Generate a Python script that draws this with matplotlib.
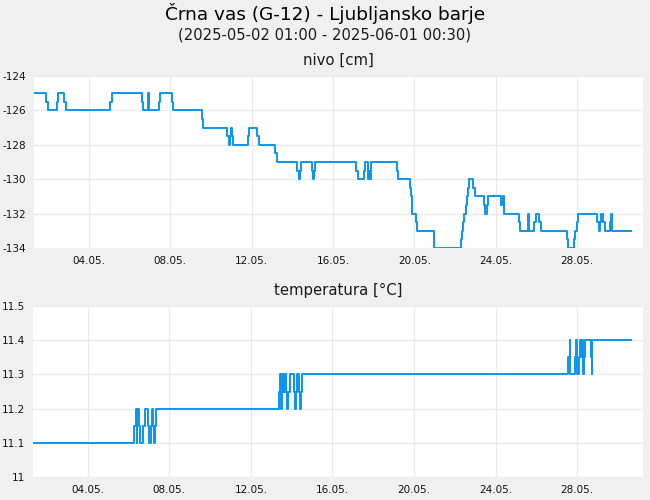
import matplotlib
matplotlib.use('Agg')
import matplotlib.pyplot as plt

# cas v dnevih maja (decimalno), vrednosti odcitane s slike
nivo_dan = [1.31, 1.92, 1.99, 2.43, 2.48, 2.80, 2.87, 5.06, 5.13, 6.60, 6.65, 6.93, 6.98,
            7.44, 7.49, 8.08, 8.13, 9.58, 9.63, 10.81, 10.88, 10.96, 11.01, 11.06, 11.11,
            11.81, 11.88, 12.28, 12.35, 13.17, 13.24, 14.25, 14.32, 14.37, 14.42, 14.99,
            15.04, 15.07, 15.12, 17.15, 17.22, 17.51, 17.56, 17.71, 17.76, 17.82, 17.89,
            19.16, 19.21, 19.77, 19.84, 19.89, 20.08, 20.15, 20.97, 22.31, 22.36, 22.41,
            22.46, 22.53, 22.58, 22.64, 22.70, 22.88, 22.98, 23.44, 23.49, 23.56, 23.61,
            24.28, 24.36, 24.41, 25.15, 25.21, 25.57, 25.60, 25.65, 25.90, 25.97, 26.14,
            26.21, 27.49, 27.57, 27.85, 27.90, 27.98, 28.04, 28.99, 29.06, 29.11, 29.16,
            29.29, 29.36, 29.60, 29.65, 29.70, 30.63]
nivo_cm = [-125, -125.5, -126, -125.5, -125, -125.5, -126, -125.5, -125, -125.5, -126, -125, -126,
           -125.5, -125, -125.5, -126, -126.5, -127, -127.5, -128, -127.5, -127, -127.5, -128,
           -127.5, -127, -127.5, -128, -128.5, -129, -129.5, -130, -129.5, -129, -129.5,
           -130, -129.5, -129, -129.5, -130, -129.5, -129, -130, -129.5, -130, -129,
           -129.5, -130, -130.5, -131, -132, -132.5, -133, -134, -133.5, -133, -132.5,
           -132, -131.5, -131, -130.5, -130, -130.5, -131, -131.5, -132, -131.5, -131,
           -131.5, -131, -132, -132.5, -133, -132.5, -132, -133, -132.5, -132, -132.5,
           -133, -133.5, -134, -133.5, -133, -132.5, -132, -132.5, -133, -132.5, -132,
           -132.5, -133, -132.5, -132, -133, -133]

temp_dan = [1.31, 6.28, 6.34, 6.40, 6.42, 6.52, 6.58, 6.73, 6.80, 6.93, 7.00, 7.11, 7.16,
            7.22, 7.27, 7.29, 7.34, 13.37, 13.43, 13.48, 13.51, 13.56, 13.60, 13.65, 13.70,
            13.74, 13.79, 13.83, 13.91, 14.09, 14.15, 14.20, 14.25, 14.35, 14.40, 14.47,
            14.52, 27.57, 27.64, 27.67, 27.90, 27.96, 28.01, 28.09, 28.14, 28.21, 28.26,
            28.30, 28.35, 28.40, 28.67, 28.72, 28.75, 30.63]
temp_c = [11.1, 11.15, 11.2, 11.1, 11.2, 11.15, 11.1, 11.15, 11.2, 11.15, 11.1, 11.15, 11.2,
          11.15, 11.1, 11.15, 11.2, 11.25, 11.3, 11.2, 11.3, 11.25, 11.3, 11.25, 11.3,
          11.25, 11.2, 11.25, 11.3, 11.25, 11.2, 11.25, 11.3, 11.25, 11.2, 11.25,
          11.3, 11.35, 11.4, 11.3, 11.35, 11.4, 11.3, 11.35, 11.4, 11.35, 11.4,
          11.3, 11.35, 11.4, 11.35, 11.3, 11.4, 11.4]

tick_dni = [4, 8, 12, 16, 20, 24, 28]
tick_oznake = ['04.05.', '08.05.', '12.05.', '16.05.', '20.05.', '24.05.', '28.05.']
nivo_ticks = [-124, -126, -128, -130, -132, -134]
temp_ticks = [11, 11.1, 11.2, 11.3, 11.4, 11.5]
temp_oznake = ['11', '11.1', '11.2', '11.3', '11.4', '11.5']

barva = '#0a96f0'
ozadje = '#f0f0f0'

fig = plt.figure(figsize=(6.5, 5), dpi=100, facecolor=ozadje)
W, H = 650, 500

ax1 = fig.add_axes([34 / W, 1 - 248 / H, (643.3 - 34) / W, (248 - 76) / H])
ax2 = fig.add_axes([33 / W, 1 - 477 / H, (643.3 - 33) / W, (477 - 306) / H])

for ax in (ax1, ax2):
    ax.set_facecolor('white')
    for s in ax.spines.values():
        s.set_visible(False)
    ax.grid(True, color='#ebebeb', linewidth=1)
    ax.set_axisbelow(True)
    ax.tick_params(length=0, labelsize=7.5, pad=6, labelcolor='#111111')
    ax.set_xticks(tick_dni)
    ax.set_xticklabels(tick_oznake)
    ax.set_xlim(1.31, 31.25)

ax1.step(nivo_dan, nivo_cm, where='post', color=barva, linewidth=1.4)
ax1.set_ylim(-134, -124)
ax1.set_yticks(nivo_ticks)
ax1.set_yticklabels([str(t) for t in nivo_ticks])
ax1.set_title('nivo [cm]', fontsize=10.7, pad=8, color='#1a1a1a')

ax2.step(temp_dan, temp_c, where='post', color=barva, linewidth=1.4)
ax2.set_ylim(11, 11.5)
ax2.set_yticks(temp_ticks)
ax2.set_yticklabels(temp_oznake)
ax2.set_title('temperatura [°C]', fontsize=10.7, pad=8, color='#1a1a1a')

fig.text(0.5, 1 - 14 / H, 'Črna vas (G-12) - Ljubljansko barje', ha='center', va='center',
         fontsize=13.3, color='black')
fig.text(0.5, 1 - 35 / H, '(2025-05-02 01:00 - 2025-06-01 00:30)', ha='center', va='center',
         fontsize=10.6, color='#1a1a1a')

plt.savefig('out.png', dpi=100, facecolor=ozadje)
